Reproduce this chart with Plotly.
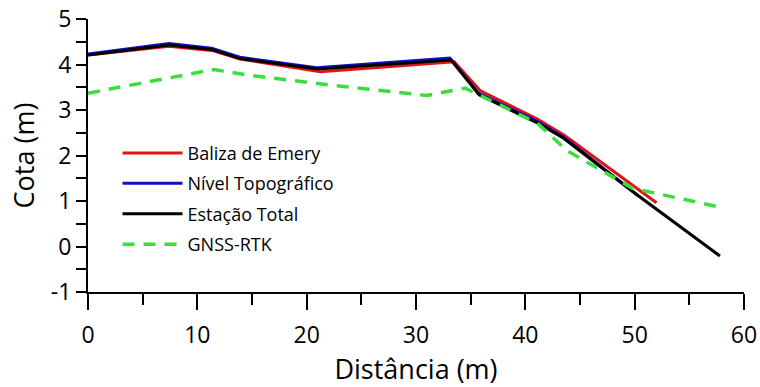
import plotly.graph_objects as go

# Data
baliza_x = [0, 7.4, 11.5, 13.9, 21.25, 33.5, 35.9, 41.1, 43.6, 50.0, 52.0]
baliza_y = [4.21, 4.40, 4.30, 4.12, 3.84, 4.06, 3.42, 2.80, 2.44, 1.30, 0.96]

nivel_x = [0, 7.4, 11.3, 13.9, 20.9, 33.1, 35.7, 41.0, 43.5, 50.3]
nivel_y = [4.23, 4.46, 4.36, 4.16, 3.93, 4.14, 3.37, 2.76, 2.40, 1.12]

estacao_x = [0, 7.4, 11.3, 13.9, 21.0, 33.2, 35.8, 41.0, 43.5, 50.3, 57.8]
estacao_y = [4.21, 4.43, 4.33, 4.13, 3.90, 4.10, 3.33, 2.73, 2.38, 1.12, -0.21]

gnss_x = [0, 7.8, 11.5, 14.6, 21.0, 31.0, 34.5, 41.1, 43.8, 49.8, 57.5]
gnss_y = [3.37, 3.73, 3.89, 3.77, 3.58, 3.32, 3.48, 2.71, 2.11, 1.28, 0.88]

series = [
    ("Baliza de Emery", baliza_x, baliza_y, "#e01414", "solid", 3),
    ("Nível Topográfico", nivel_x, nivel_y, "#1010c8", "solid", 3),
    ("Estação Total", estacao_x, estacao_y, "#000000", "solid", 3),
    ("GNSS-RTK", gnss_x, gnss_y, "#3ddc3d", "12px,9px", 3.5),
]

x_tickvals = [0, 10, 20, 30, 40, 50, 60]
x_ticktext = ["0", "10", "20", "30", "40", "50", "60"]
y_tickvals = [-1, 0, 1, 2, 3, 4, 5]
y_ticktext = ["-1", "0", "1", "2", "3", "4", "5"]

fig = go.Figure()
for i, (name, xs, ys, color, dash, w) in enumerate(series):
    fig.add_trace(go.Scatter(
        x=xs, y=ys, mode="lines", name=name, legendgroup=f"g{i}",
        line=dict(color=color, width=w, dash=dash),
    ))

font = "Open Sans, sans-serif"
fig.update_layout(
    width=760, height=387,
    margin=dict(l=88, r=16, t=19, b=95),
    paper_bgcolor="white", plot_bgcolor="white",
    font=dict(family=font, color="black"),
    showlegend=True,
    legend=dict(
        x=0.045, y=0.576, xanchor="left", yanchor="top",
        bgcolor="rgba(0,0,0,0)", borderwidth=0,
        font=dict(size=18, family=font, color="black"),
        traceorder="grouped", tracegroupgap=4, itemwidth=60,
    ),
    xaxis=dict(
        range=[0, 60], tickvals=x_tickvals, ticktext=x_ticktext,
        showgrid=False, zeroline=False, automargin=False,
        showline=True, linecolor="black", linewidth=2,
        ticks="outside", ticklen=16, tickwidth=2, tickcolor="black",
        ticklabelstandoff=5,
        minor=dict(dtick=5, ticks="outside", ticklen=11, tickwidth=2, tickcolor="black", showgrid=False),
        tickfont=dict(size=23), title=dict(text="Distância (m)", font=dict(size=27), standoff=14),
    ),
    yaxis=dict(
        range=[-1, 5], tickvals=y_tickvals, ticktext=y_ticktext,
        showgrid=False, zeroline=False, automargin=False,
        showline=True, linecolor="black", linewidth=2,
        ticks="outside", ticklen=10, tickwidth=2, tickcolor="black",
        minor=dict(dtick=0.5, ticks="outside", ticklen=10, tickwidth=2, tickcolor="black", showgrid=False),
        tickfont=dict(size=23), title=dict(text="Cota (m)", font=dict(size=27), standoff=8),
    ),
)

fig.write_html(
    "out.html",
    config={"displayModeBar": False},
    post_script="document.body.style.margin='0';document.body.style.overflow='hidden';",
)
